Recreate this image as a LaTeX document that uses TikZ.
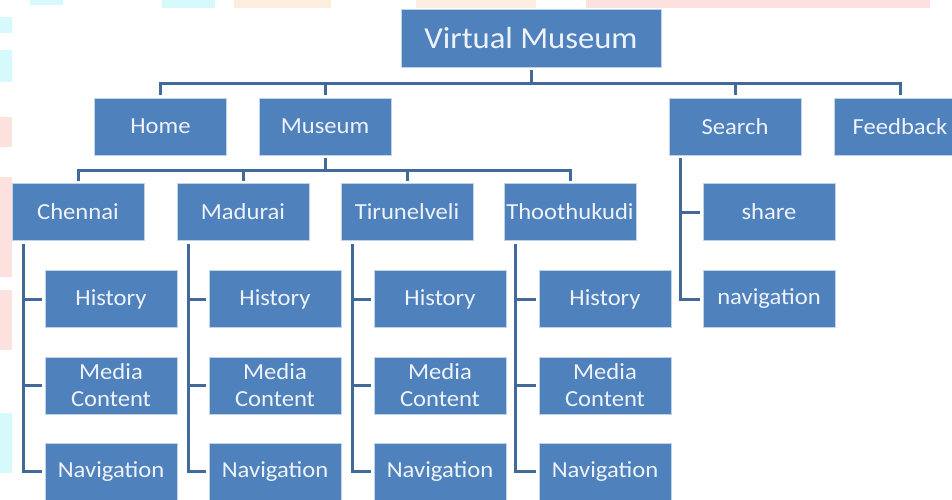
\documentclass[tikz,border=0pt]{standalone}
\usepackage{fontspec}
\setmainfont[FakeStretch=1.07]{Carlito}
\usetikzlibrary{calc}

\definecolor{boxblue}{HTML}{4F81BD}
\definecolor{linkblue}{HTML}{41699A}
\definecolor{boxtext}{HTML}{EEF3FA}
\definecolor{tintcyan}{HTML}{D6FAFC}
\definecolor{tintpink}{HTML}{FDE1DE}
\definecolor{tintpeach}{HTML}{FDEDDF}

\tikzset{
  box/.style={rectangle, fill=boxblue, draw=white!65!boxblue, line width=0.6pt,
    minimum width=132pt, minimum height=57pt, inner sep=0pt, outer sep=3pt,
    text=boxtext, align=center, font=\fontsize{23}{27}\selectfont},
  topbox/.style={box, minimum width=260pt, minimum height=58pt,
    font=\fontsize{30.5}{34}\selectfont},
  link/.style={draw=linkblue, line width=3pt, line join=miter},
  tint/.style={draw=none}
}

\begin{document}
\begin{tikzpicture}[x=1pt, y=-1pt]
  \useasboundingbox (0,0) rectangle (952,499);
  \fill[white] (0,0) rectangle (952,499);

  % faint watermark tints along the top and left edges
  \fill[tintcyan]  (30,0) rectangle (63,5);
  \fill[tintcyan]  (162,0) rectangle (215,8);
  \fill[tintpeach] (234,0) rectangle (331,8);
  \fill[tintpeach] (416,0) rectangle (536,8);
  \fill[tintpink]  (586,0) rectangle (930,8);
  \fill[tintcyan]  (0,17) rectangle (12,33);
  \fill[tintcyan]  (0,50) rectangle (12,82);
  \fill[tintpink]  (0,117) rectangle (12,147);
  \fill[tintpink]  (0,177) rectangle (12,277);
  \fill[tintpink]  (0,290) rectangle (12,350);
  \fill[tintcyan]  (0,413) rectangle (12,473);

  % root
  \node[topbox] (vm) at (531,38) {Virtual Museum};

  % first level
  \node[box] (home)   at (160.5,126.5) {Home};
  \node[box] (museum) at (325,126.5)   {Museum};
  \node[box] (search) at (735,126.5)   {Search};
  \node[box] (feed)   at (900,126.5)   {Feedback};

  % cities
  \node[box] (city1) at (78,212)  {Chennai};
  \node[box] (city2) at (243,212) {Madurai};
  \node[box] (city3) at (407,212) {Tirunelveli};
  \node[box] (city4) at (570,212) {Thoothukudi};

  % search items
  \node[box] (share) at (769,212) {share};
  \node[box] (snav)  at (769,299) {navigation};

  % city pages
  \foreach \i/\x in {1/111, 2/275, 3/440, 4/605} {
    \node[box] (hist\i) at (\x,299)   {History};
    \node[box] (med\i)  at (\x,385.5) {Media\\Content};
    \node[box] (nav\i)  at (\x,471.5) {Navigation};
  }

  % root bus
  \coordinate (bus1) at (531,83);
  \draw[link] (vm.south) -- (bus1);
  \foreach \n in {home, museum, search, feed}
    \draw[link] (bus1) -| (\n.north);

  % museum bus
  \coordinate (bus2) at (325,170);
  \draw[link] (museum.south) -- (bus2);
  \foreach \n in {city1, city2, city3, city4}
    \draw[link] (bus2) -| (\n.north);

  % city columns
  \foreach \i in {1,2,3,4} {
    \coordinate (col\i) at ($(city\i.south west)+(14,0)$);
    \draw[link] (col\i) |- (nav\i.west);
    \draw[link] (col\i |- hist\i.west) -- (hist\i.west);
    \draw[link] (col\i |- med\i.west) -- (med\i.west);
  }

  % search column
  \coordinate (scol) at ($(search.south west)+(14,0)$);
  \draw[link] (scol) |- (snav.west);
  \draw[link] (scol |- share.west) -- (share.west);
\end{tikzpicture}
\end{document}
